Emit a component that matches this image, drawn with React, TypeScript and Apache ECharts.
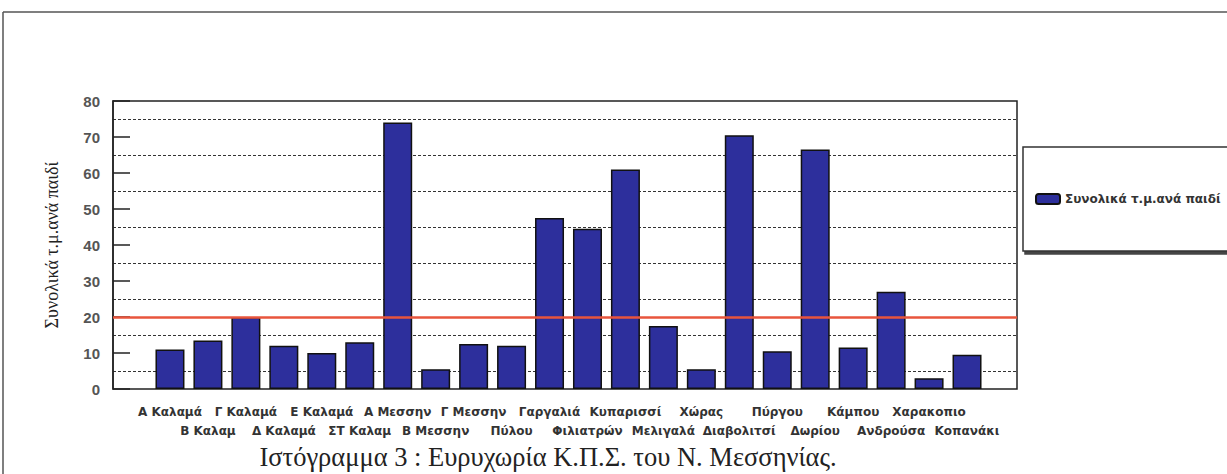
import React, { useEffect, useRef } from "react";
import * as echarts from "echarts";

const categories = [
  "Α Καλαμά", "Β Καλαμ", "Γ Καλαμά", "Δ Καλαμά", "Ε Καλαμά", "ΣΤ Καλαμ",
  "Α Μεσσην", "Β Μεσσην", "Γ Μεσσην", "Πύλου", "Γαργαλιά", "Φιλιατρών",
  "Κυπαρισσί", "Μελιγαλά", "Χώρας", "Διαβολιτσί", "Πύργου", "Δωρίου",
  "Κάμπου", "Ανδρούσα", "Χαρακοπιο", "Κοπανάκι",
];
const seriesName = "Συνολικά τ.μ.ανά παιδί";
const values = [11, 13.5, 20, 12, 10, 13, 74, 5.5, 12.5, 12, 47.5, 44.5, 61, 17.5, 5.5, 70.5, 10.5, 66.5, 11.5, 27, 3, 9.5];
const threshold = 20;
const yTicks = { min: 0, max: 80, interval: 10 };
const titleText = "Ιστόγραμμα 3 : Ευρυχωρία Κ.Π.Σ. του Ν. Μεσσηνίας.";

export default function App() {
  const ref = useRef<HTMLDivElement>(null);
  useEffect(() => {
    if (!ref.current) return;
    const chart = echarts.init(ref.current, null, { renderer: "svg" });
    const top = 101;
    const bottom = 85;
    chart.setOption({
      animation: false,
      backgroundColor: "#ffffff",
      legend: {
        data: [seriesName],
        left: 1023,
        top: 147,
        orient: "vertical",
        itemWidth: 24,
        itemHeight: 10,
        padding: [46, 40, 46, 12],
        borderColor: "#333",
        borderWidth: 1.5,
        shadowColor: "#444",
        shadowOffsetX: 2,
        shadowOffsetY: 3,
        shadowBlur: 0,
        backgroundColor: "#fff",
        textStyle: { fontFamily: "DejaVu Sans", fontSize: 12, fontWeight: "bold", color: "#333" },
      },
      grid: [
        { left: 151, right: 241, top, bottom },
        { left: 113, right: 210, top, bottom, show: true, borderColor: "#222", borderWidth: 1.5, backgroundColor: "transparent" },
      ],
      xAxis: [
        {
          type: "category",
          gridIndex: 0,
          data: categories,
          axisLine: { show: false },
          axisTick: { show: false },
          axisLabel: {
            interval: 0,
            margin: 13,
            fontFamily: "DejaVu Sans",
            fontSize: 12,
            fontWeight: "bold",
            color: "#333",
            lineHeight: 19,
            formatter: (v: string) => (categories.indexOf(v) % 2 === 1 ? "\n" + v : v),
          },
        },
        { type: "value", gridIndex: 1, min: 0, max: 1, show: false },
      ],
      yAxis: [
        { type: "value", gridIndex: 0, min: yTicks.min, max: yTicks.max, interval: yTicks.interval, show: false },
        {
          type: "value",
          gridIndex: 1,
          min: yTicks.min,
          max: yTicks.max,
          interval: yTicks.interval,
          name: seriesName,
          nameLocation: "middle",
          nameGap: 52,
          nameTextStyle: { fontFamily: "Liberation Serif", fontSize: 18, color: "#222" },
          axisLine: { show: true, lineStyle: { color: "#222", width: 1.5 } },
          axisTick: { show: true, inside: true, length: 17, lineStyle: { color: "#222", width: 1.5 } },
          axisLabel: { fontFamily: "Liberation Sans", fontSize: 15, fontWeight: "bold", color: "#555", margin: 13 },
          splitLine: { show: false },
          minorTick: { show: false, splitNumber: 2 },
          minorSplitLine: { show: true, lineStyle: { color: "#333", width: 1, type: [3, 2] } },
        },
      ],
      series: [
        {
          name: seriesName,
          type: "bar",
          xAxisIndex: 0,
          yAxisIndex: 0,
          data: values,
          barWidth: 29,
          itemStyle: { color: "#2d2f9c", borderColor: "#111", borderWidth: 1.5 },
        },
        {
          type: "line",
          xAxisIndex: 1,
          yAxisIndex: 1,
          data: [],
          silent: true,
          markLine: {
            symbol: "none",
            silent: true,
            label: { show: false },
            lineStyle: { color: "#e8553c", width: 2.5, type: "solid" },
            data: [{ yAxis: threshold }],
          },
        },
      ],
      graphic: [
        { type: "line", shape: { x1: 3, y1: 12, x2: 1227, y2: 12 }, style: { stroke: "#555", lineWidth: 1.5 } },
        { type: "line", shape: { x1: 3, y1: 12, x2: 3, y2: 474 }, style: { stroke: "#555", lineWidth: 1.5 } },
        {
          type: "text",
          x: 548,
          y: 457,
          style: {
            text: titleText,
            fontFamily: "Liberation Serif",
            fontSize: 26.5,
            fill: "#222",
            textAlign: "center",
            textVerticalAlign: "middle",
          },
        },
      ],
    });
    return () => chart.dispose();
  }, []);
  return (
    <div
      ref={ref}
      style={{ position: "absolute", left: 0, top: 0, width: 1227, height: 474 }}
    />
  );
}
